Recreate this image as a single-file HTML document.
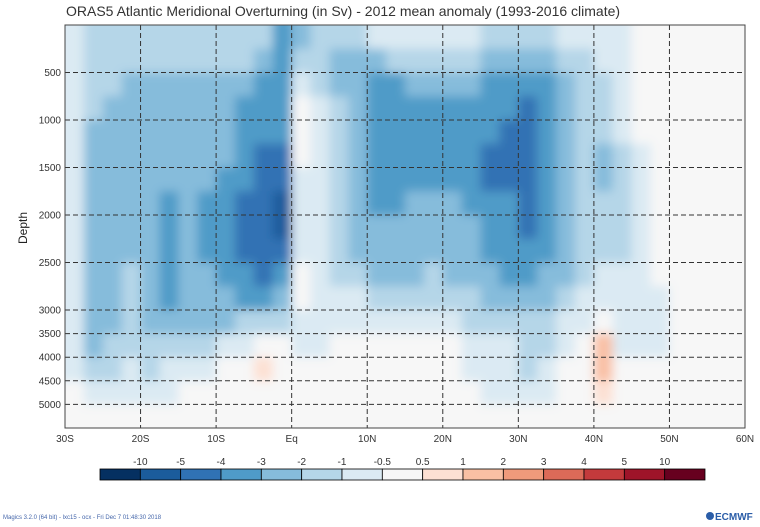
<!DOCTYPE html>
<html><head><meta charset="utf-8">
<style>
body{margin:0;background:#fff;}
svg{display:block;font-family:"Liberation Sans",sans-serif;}
</style></head>
<body>
<svg id="chart" width="760" height="527" viewBox="0 0 760 527">
<defs>
<clipPath id="plotclip"><rect x="65" y="25" width="680" height="403"/></clipPath>
<filter id="smooth" x="-5%" y="-5%" width="110%" height="110%"><feGaussianBlur stdDeviation="5"/></filter>
</defs>
<text x="66" y="16" font-size="14" fill="#333">ORAS5 Atlantic Meridional Overturning (in Sv) - 2012 mean anomaly (1993-2016 climate)</text>
<rect x="65" y="25" width="680" height="403" fill="#f7f7f7"/>
<g id="cells" clip-path="url(#plotclip)"><g id="cellsinner" filter="url(#smooth)"></g></g>
<g id="grid"></g>
<rect x="65" y="25" width="680" height="403" fill="none" stroke="#444" stroke-width="1"/>
<g id="axes"></g>
<text x="0" y="0" font-size="12" fill="#222" transform="translate(27,244) rotate(-90)">Depth</text>
<g id="colorbar"></g>
<text x="3" y="519" font-size="6" fill="#4466aa">Magics 3.2.0 (64 bit) - lxc15 - ocx - Fri Dec  7 01:48:30 2018</text>
<g>
<circle cx="710" cy="516" r="4" fill="#2a5da8"/>
<text x="715" y="520" font-size="10" font-weight="bold" fill="#2a5da8">ECMWF</text>
</g>
</svg>
<script>
const W=0,a=-0.7,b=-1.5,c=-2.5,d=-3.5,e=-4.5,f=-6,p=0.7,q=1.5;
const latEdges=[];for(let i=0;i<=36;i++)latEdges.push(-30+2.5*i);
const depthEdges=[0,250,500,750,1000,1250,1500,1750,2000,2250,2500,2750,3000,3500,4000,4500,5000,5500];
const field=[
[a,b,b,b,b,b,b,b,b,b,b,d,c,b,b,b,a,a,a,a,a,a,b,b,b,b,a,a,a,a,W,W,W,W,W,W],
[a,b,b,b,b,b,b,b,b,b,c,d,b,b,c,c,c,b,b,b,b,b,c,c,c,c,b,b,a,a,W,W,W,W,W,W],
[a,b,b,c,c,c,c,c,c,c,d,d,a,b,c,c,d,d,c,c,c,c,d,d,d,d,c,b,b,a,W,W,W,W,W,W],
[a,b,c,c,c,c,c,c,c,d,d,d,W,a,b,c,d,d,d,d,d,d,d,d,e,d,c,b,b,a,W,W,W,W,W,W],
[a,c,c,c,c,c,c,c,c,d,d,d,W,a,b,c,d,d,d,d,d,d,d,e,e,d,c,b,b,a,W,W,W,W,W,W],
[a,c,c,c,c,c,c,c,c,d,e,e,W,a,b,c,d,d,d,d,d,d,e,e,e,d,c,b,c,b,a,W,W,W,W,W],
[a,c,c,c,c,c,c,c,d,d,e,e,a,a,b,c,d,d,d,d,d,d,e,e,e,d,c,b,c,b,a,W,W,W,W,W],
[a,c,c,c,c,d,c,d,d,e,e,f,a,a,b,c,d,d,c,c,c,d,d,d,e,d,c,b,b,b,a,W,W,W,W,W],
[a,c,c,c,c,d,c,d,d,e,e,f,a,a,b,c,c,c,c,c,c,c,d,d,e,d,c,b,b,b,a,W,W,W,W,W],
[a,c,c,c,c,d,c,d,d,e,e,e,a,a,b,c,c,c,c,c,c,c,d,d,d,d,c,b,b,b,a,W,W,W,W,W],
[a,c,c,b,c,d,c,c,d,d,e,d,W,a,b,b,c,c,c,b,c,c,c,d,d,c,c,b,a,a,a,W,W,W,W,W],
[a,c,c,b,c,d,c,c,c,d,d,c,W,a,a,a,b,b,b,b,b,b,c,c,c,c,b,a,a,a,a,a,W,W,W,W],
[a,c,c,b,c,c,c,c,c,b,b,b,a,a,a,a,a,a,a,a,a,b,b,b,b,b,a,a,W,a,a,a,W,W,W,W],
[a,c,b,b,b,b,b,b,a,a,W,W,a,a,W,W,W,W,W,W,W,a,a,a,b,b,a,W,q,a,a,a,W,W,W,W],
[a,b,b,a,b,a,a,a,W,W,p,W,W,W,W,W,W,W,W,W,W,a,a,a,b,a,W,W,q,W,W,W,W,W,W,W],
[W,a,a,a,a,a,W,W,W,W,W,W,W,W,W,W,W,W,W,W,W,W,a,a,a,a,W,W,p,W,W,W,W,W,W,W],
[W,W,W,W,W,W,W,W,W,W,W,W,W,W,W,W,W,W,W,W,W,W,W,W,W,W,W,W,W,W,W,W,W,W,W,W]
];
const levelEdges=[-10,-5,-4,-3,-2,-1,-0.5,0.5,1,2,3,4,5,10];
const levelLabels=["-10","-5","-4","-3","-2","-1","-0.5","0.5","1","2","3","4","5","10"];
const palette=["#053061","#1b5c9c","#3072b4","#4f9bc8","#86bcdb","#b5d6e8","#dbeaf3","#f7f7f7","#fde0d3","#f9c0a4","#ef9a7b","#dc6a58","#c33a3c","#9e1429","#67001f"];
const xTicks=[-30,-20,-10,0,10,20,30,40,50,60];
const xTickLabels=["30S","20S","10S","Eq","10N","20N","30N","40N","50N","60N"];
const yTicks=[500,1000,1500,2000,2500,3000,3500,4000,4500,5000];

const NS="http://www.w3.org/2000/svg";
function xs(lat){return 65+(lat+30)*680/90;}
function ys(dep){return dep<=3000?25+dep*285/3000:310+(dep-3000)*118/2500;}
function colorOf(v){let i=0;while(i<levelEdges.length&&v>=levelEdges[i])i++;return palette[i];}
function mk(tag,attrs,parent){const el=document.createElementNS(NS,tag);for(const k in attrs)el.setAttribute(k,attrs[k]);parent.appendChild(el);return el;}

const cells=document.getElementById('cellsinner');
for(let r=0;r<field.length;r++){for(let i=0;i<field[r].length;i++){
  const x0=xs(latEdges[i]),x1=xs(latEdges[i+1]);
  const y0=ys(depthEdges[r]),y1=ys(depthEdges[r+1]);
  const ex=(i===0?-8:0),ey=(r===0?-8:0);
  const el=mk('rect',{x:x0+ex,y:y0+ey,width:x1-x0+0.6-ex+(i===35?8:0),height:y1-y0+0.6-ey+(r===16?8:0),fill:colorOf(field[r][i])},cells);
  
  
}}
const grid=document.getElementById('grid');
for(let k=1;k<xTicks.length-1;k++){
  const el=mk('line',{x1:xs(xTicks[k]),x2:xs(xTicks[k]),y1:25,y2:428,stroke:'#333','stroke-width':1,'stroke-dasharray':'5,3'},grid);
  
  
}
for(let k=0;k<yTicks.length;k++){
  const el=mk('line',{x1:65,x2:745,y1:ys(yTicks[k]),y2:ys(yTicks[k]),stroke:'#333','stroke-width':1,'stroke-dasharray':'5,3'},grid);
  
  
}
const axes=document.getElementById('axes');
for(let k=0;k<xTicks.length;k++){
  const t=mk('text',{x:xs(xTicks[k]),y:442,'font-size':10,fill:'#333','text-anchor':'middle'},axes);
  t.textContent=xTickLabels[k];
  
  
}
for(let k=0;k<yTicks.length;k++){
  const t=mk('text',{x:61,y:ys(yTicks[k])+3.5,'font-size':10,fill:'#333','text-anchor':'end'},axes);
  t.textContent=String(yTicks[k]);
  
  
}
const cb=document.getElementById('colorbar');
const cbX=100,cbW=605,cbY=469,cbH=11,bw=cbW/palette.length;
for(let k=0;k<palette.length;k++){
  const el=mk('rect',{x:cbX+k*bw,y:cbY,width:bw,height:cbH,fill:palette[k],stroke:'#000','stroke-width':0.8},cb);
  
  
}
for(let k=0;k<levelLabels.length;k++){
  const t=mk('text',{x:cbX+(k+1)*bw,y:465,'font-size':10,fill:'#333','text-anchor':'middle'},cb);
  t.textContent=levelLabels[k];
  
  
}
</script>
</body></html>
